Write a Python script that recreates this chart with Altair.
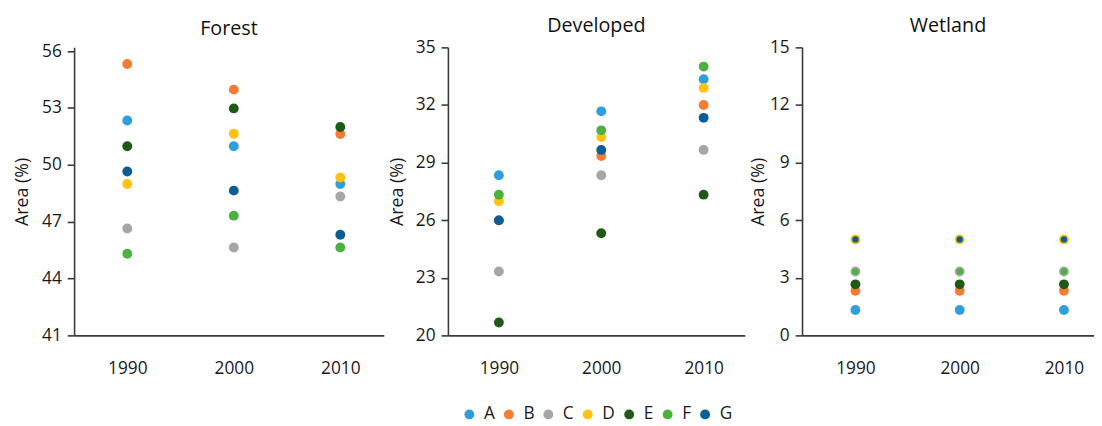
import altair as alt
import pandas as pd

years = ["1990", "2000", "2010"]
series = ["A", "B", "C", "D", "E", "F", "G"]
colors = ["#2E9FDC", "#F57D2F", "#A6A6A6", "#FFC20E", "#1E5A16", "#4BB240", "#0B5D96"]

forest = {
    "A": [52.34, 50.98, 48.99],
    "B": [55.32, 53.97, 51.63],
    "C": [46.64, 45.64, 48.33],
    "D": [48.99, 51.64, 49.33],
    "E": [50.98, 52.98, 52.00],
    "F": [45.31, 47.32, 45.64],
    "G": [49.65, 48.64, 46.31],
}
developed = {
    "A": [28.34, 31.67, 33.34],
    "B": [26.00, 29.34, 32.00],
    "C": [23.33, 28.34, 29.66],
    "D": [26.99, 30.33, 32.89],
    "E": [20.67, 25.32, 27.33],
    "F": [27.33, 30.68, 34.00],
    "G": [25.99, 29.66, 31.33],
}
wetland = {
    "A": [1.32, 1.32, 1.32],
    "B": [2.32, 2.32, 2.32],
    "C": [3.33, 3.33, 3.33],
    "D": [5.00, 5.00, 5.00],
    "E": [2.66, 2.66, 2.66],
    "F": [3.33, 3.33, 3.33],
    "G": [5.00, 5.00, 5.00],
}

FONT = "Open Sans"


def table(d):
    rows = []
    for s in series:
        for i, y in enumerate(years):
            rows.append({"year": y, "series": s, "value": d[s][i]})
    return pd.DataFrame(rows)


def panel(d, title, domain, ticks, width, padding, align, title_pad, small=False):
    size = alt.value(100)
    if small:
        size = alt.when(alt.FieldOneOfPredicate(field="series", oneOf=["F", "G"])).then(
            alt.value(42)).otherwise(alt.value(100))
    return alt.Chart(table(d), title=alt.Title(title, fontSize=20, font=FONT, fontWeight="normal",
                                                 color="#111", offset=3)).mark_circle(opacity=1).encode(
        x=alt.X("year:N", sort=years, title=None,
                scale=alt.Scale(type="point", padding=padding, align=align),
                axis=alt.Axis(labelAngle=0, ticks=False, tickSize=0, labelPadding=25, domainWidth=1.6,
                              domainColor="#3a3a3a", labelFontSize=17.5, labelFont=FONT, labelColor="#1a1a1a",
                              grid=False)),
        y=alt.Y("value:Q", title="Area (%)",
                scale=alt.Scale(domain=domain, nice=False, zero=False),
                axis=alt.Axis(values=ticks, tickSize=7, tickWidth=1.6,
                              tickColor="#3a3a3a", domainWidth=1.6, domainColor="#3a3a3a",
                              labelPadding=6, labelFontSize=17.5, labelFont=FONT, labelColor="#1a1a1a",
                              titleFontSize=18, titleFont=FONT, titleFontWeight="normal", titleColor="#1a1a1a",
                              titlePadding=title_pad, grid=False)),
        color=alt.Color("series:N", sort=series,
                        scale=alt.Scale(domain=series, range=colors),
                        legend=alt.Legend(title=None, orient="none", direction="horizontal",
                                          legendX=392, legendY=363, symbolType="circle", symbolSize=100,
                                          symbolStrokeWidth=0, labelFontSize=17.5, labelFont=FONT,
                                          labelColor="#1a1a1a", labelOffset=6, columnPadding=5)),
        size=size,
    ).properties(width=width, height=292)


p1 = panel(forest, "Forest", [41, 56.2], [41, 44, 47, 50, 53, 56], 314, 0.454, 0.55, 10)
p2 = panel(developed, "Developed", [20, 35], [20, 23, 26, 29, 32, 35], 301, 0.45, 0.553, 9)
p3 = panel(wetland, "Wetland", [0, 15], [0, 3, 6, 9, 12, 15], 296, 0.40, 0.64, 2, small=True)

chart = alt.hconcat(p1, p2, p3, spacing=4).properties(
    padding={"left": 5, "top": 5, "right": 0, "bottom": 5}
).configure_view(stroke=None).configure_concat(spacing=4)

chart.save("out.html", embed_options={"renderer": "svg", "actions": False})
